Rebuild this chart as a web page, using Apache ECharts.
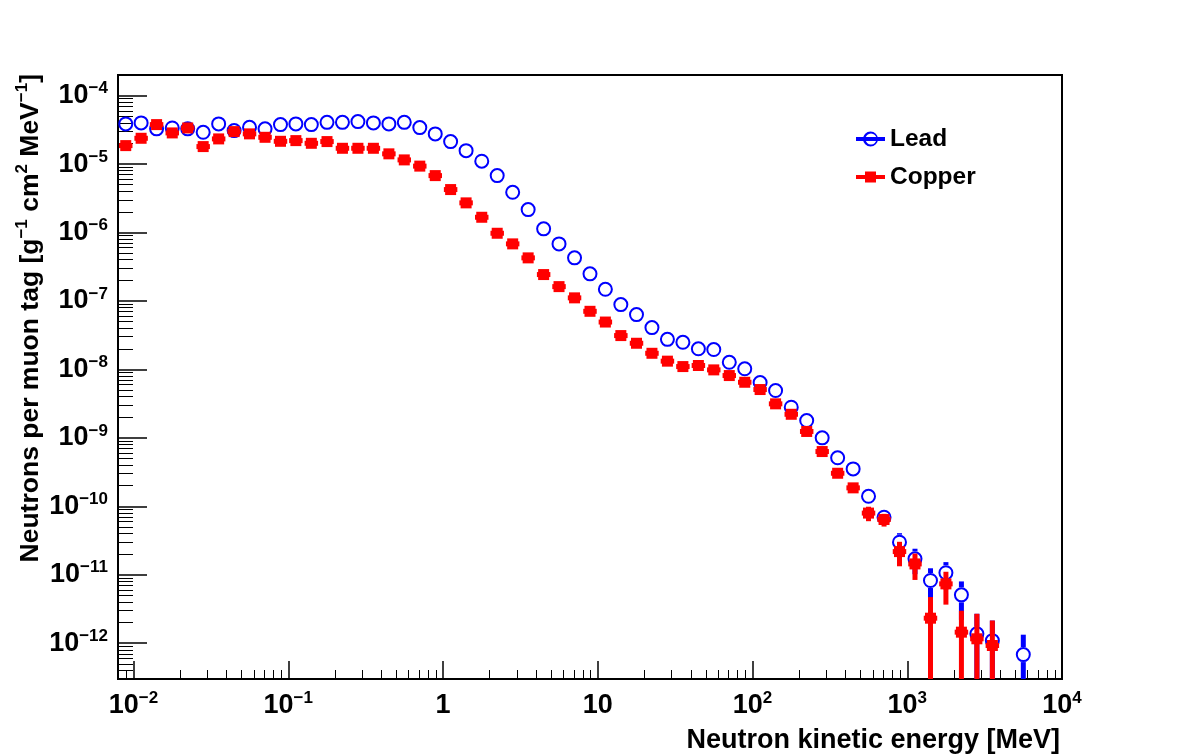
<!DOCTYPE html>
<html><head><meta charset="utf-8">
<script src="https://cdn.jsdelivr.net/npm/echarts@6/dist/echarts.min.js"></script>
<style>html,body{margin:0;padding:0;background:#fff}#c{width:1182px;height:755px}</style>
</head><body><div id="c"></div>
<script>
// ---- data ----
const energy = [0.00891, 0.0112, 0.0141, 0.0178, 0.0224, 0.0282, 0.0355, 0.0447, 0.0562, 0.0708,
  0.0891, 0.112, 0.141, 0.178, 0.224, 0.282, 0.355, 0.447, 0.562, 0.708,
  0.891, 1.12, 1.41, 1.78, 2.24, 2.82, 3.55, 4.47, 5.62, 7.08,
  8.91, 11.2, 14.1, 17.8, 22.4, 28.2, 35.5, 44.7, 56.2, 70.8,
  89.1, 112, 141, 178, 224, 282, 355, 447, 562, 708,
  891, 1122, 1413, 1778, 2239, 2818, 3548, 4467, 5623];
const binLogWidth = 0.1;

const leadFlux = [3.86e-5, 3.99e-5, 3.27e-5, 3.37e-5, 3.27e-5, 2.91e-5, 3.86e-5, 3.08e-5, 3.44e-5, 3.27e-5,
  3.77e-5, 3.86e-5, 3.77e-5, 4.07e-5, 4.07e-5, 4.17e-5, 3.99e-5, 3.86e-5, 4.07e-5, 3.41e-5,
  2.76e-5, 2.13e-5, 1.57e-5, 1.10e-5, 6.78e-6, 3.87e-6, 2.16e-6, 1.13e-6, 6.82e-7, 4.26e-7,
  2.49e-7, 1.48e-7, 8.85e-8, 6.32e-8, 4.08e-8, 2.75e-8, 2.49e-8, 2.00e-8, 1.95e-8, 1.27e-8,
  1.02e-8, 6.43e-9, 4.91e-9, 2.80e-9, 1.79e-9, 1.00e-9, 5.11e-10, 3.52e-10, 1.40e-10, 6.92e-11,
  2.99e-11, 1.71e-11, 8.24e-12, 1.07e-11, 5.09e-12, 1.37e-12, 1.09e-12, null, 6.82e-13];
// statistical errors (null = hidden inside the marker)
const leadErr = [null, null, null, null, null, null, null, null, null, null,
  null, null, null, null, null, null, null, null, null, null,
  null, null, null, null, null, null, null, null, null, null,
  null, null, null, null, null, null, null, null, null, null,
  null, null, null, null, null, null, null, null, null, null,
  1.06e-11, 6.9e-12, 4.2e-12, 4.6e-12, 2.9e-12, 1.32e-12, 1.05e-12, null, 6.5e-13];

const copperFlux = [1.86e-5, 2.38e-5, 3.77e-5, 2.85e-5, 3.37e-5, 1.80e-5, 2.33e-5, 2.98e-5, 2.76e-5, 2.46e-5,
  2.15e-5, 2.20e-5, 2.01e-5, 2.13e-5, 1.70e-5, 1.70e-5, 1.70e-5, 1.41e-5, 1.15e-5, 9.33e-6,
  6.78e-6, 4.24e-6, 2.71e-6, 1.67e-6, 9.75e-7, 6.82e-7, 4.26e-7, 2.43e-7, 1.62e-7, 1.11e-7,
  7.06e-8, 4.92e-8, 3.12e-8, 2.41e-8, 1.72e-8, 1.32e-8, 1.10e-8, 1.14e-8, 9.84e-9, 8.13e-9,
  6.49e-9, 5.08e-9, 3.14e-9, 2.21e-9, 1.24e-9, 6.31e-10, 3.04e-10, 1.86e-10, 7.96e-11, 6.41e-11,
  2.18e-11, 1.44e-11, 2.32e-12, 7.36e-12, 1.45e-12, 1.16e-12, 9.25e-13];
const copperErr = [null, null, null, null, null, null, null, null, null, null,
  null, null, null, null, null, null, null, null, null, null,
  null, null, null, null, null, null, null, null, null, null,
  null, null, null, null, null, null, null, null, null, null,
  null, null, null, null, null, null, null, null, 1.9e-11, 1.35e-11,
  8.5e-12, 6.0e-12, 2.4e-12, 3.7e-12, 1.53e-12, 1.53e-12, 1.22e-12];

const xRange = [0.00794, 1e4];
const yRange = [3e-13, 2e-4];
const xMajorTicks = [1e-2, 1e-1, 1, 10, 100, 1000, 10000];
const yMajorTicks = [1e-12, 1e-11, 1e-10, 1e-9, 1e-8, 1e-7, 1e-6, 1e-5, 1e-4];

// ---- styling ----
const FONT = "'Liberation Sans', Arial, Helvetica, sans-serif";
const BLUE = '#0000ff', RED = '#ff0000';

function minorTicks(range) {
  const out = [];
  const e0 = Math.floor(Math.log10(range[0])), e1 = Math.ceil(Math.log10(range[1]));
  for (let e = e0; e <= e1; e++) {
    for (let m = 2; m <= 9; m++) {
      const v = m * Math.pow(10, e);
      if (v >= range[0] * 0.9999 && v <= range[1]) out.push(v);
    }
  }
  return out;
}

function powLabel(v) {
  const l = Math.log10(v), e = Math.round(l);
  if (Math.abs(l - e) > 1e-6) return '';
  if (e === 0) return '{b|1}';
  if (e === 1) return '{b|10}';
  return '{b|10}{s|' + (e < 0 ? '\u2212' : '') + Math.abs(e) + '}';
}
const labelRich = {
  b: {fontSize: 27, fontWeight: 'bold', fontFamily: FONT, color: '#000', lineHeight: 31},
  s: {fontSize: 17, fontWeight: 'bold', fontFamily: FONT, color: '#000', lineHeight: 18, verticalAlign: 'top'}
};

function toData(flux, err) {
  const out = [];
  for (let i = 0; i < energy.length; i++) {
    if (flux[i] == null) continue;
    out.push([energy[i], flux[i], err[i] == null ? 0 : err[i]]);
  }
  return out;
}

function errEnds(api, params, x, y, e) {
  const cs = params.coordSys, bottom = cs.y + cs.height;
  const top = api.coord([x, y + e])[1];
  const low = (y - e > 0) ? Math.min(api.coord([x, y - e])[1], bottom) : bottom;
  return [top, low];
}

function renderLead(params, api) {
  const x = api.value(0), y = api.value(1), e = api.value(2);
  const p = api.coord([x, y]);
  const r = 6.5;
  const ch = [];
  if (e > 0) {
    const [top, low] = errEnds(api, params, x, y, e);
    if (top < p[1] - r - 1) ch.push({type: 'line', shape: {x1: p[0], y1: p[1] - r - 1, x2: p[0], y2: top}, style: {stroke: BLUE, lineWidth: 5}});
    if (low > p[1] + r + 1) ch.push({type: 'line', shape: {x1: p[0], y1: p[1] + r + 1, x2: p[0], y2: low}, style: {stroke: BLUE, lineWidth: 5}});
  }
  ch.push({type: 'circle', shape: {cx: p[0], cy: p[1], r: r}, style: {fill: 'none', stroke: BLUE, lineWidth: 2}});
  return {type: 'group', children: ch};
}

function renderCopper(params, api) {
  const x = api.value(0), y = api.value(1), e = api.value(2);
  const p = api.coord([x, y]);
  const xl = api.coord([x * Math.pow(10, -binLogWidth / 2), y])[0];
  const xr = api.coord([x * Math.pow(10, binLogWidth / 2), y])[0];
  const ch = [];
  ch.push({type: 'line', shape: {x1: xl + 1, y1: p[1], x2: xr - 1, y2: p[1]}, style: {stroke: RED, lineWidth: 5}});
  if (e > 0) {
    const [top, low] = errEnds(api, params, x, y, e);
    ch.push({type: 'line', shape: {x1: p[0], y1: top, x2: p[0], y2: low}, style: {stroke: RED, lineWidth: 5}});
  }
  const s = 11;
  ch.push({type: 'rect', shape: {x: p[0] - s / 2, y: p[1] - s / 2, width: s, height: s}, style: {fill: RED}});
  return {type: 'group', children: ch};
}

const leadIcon = 'path://M0 5.5H29V9.5H0Z M22 7.5A7.5 7.5 0 1 1 7 7.5A7.5 7.5 0 1 1 22 7.5Z M20.5 7.5A5.5 5.5 0 1 0 9.5 7.5A5.5 5.5 0 1 0 20.5 7.5Z';
const copperIcon = 'path://M0 5.5H29V9.5H0Z M9 2H20V13H9Z';

const axisCommon = {
  type: 'log', logBase: 10, splitLine: {show: false}, minorTick: {show: false}, minorSplitLine: {show: false}
};

const option = {
  animation: false,
  backgroundColor: '#fff',
  grid: {left: 118, right: 120, top: 75, bottom: 76, show: true, borderColor: '#000', borderWidth: 2, backgroundColor: 'transparent'},
  legend: {
    orient: 'vertical', left: 856, top: 126, padding: 0, itemWidth: 29, itemHeight: 15, itemGap: 12,
    selectedMode: false,
    textStyle: {fontSize: 24.5, fontWeight: 'bold', fontFamily: FONT, color: '#000', lineHeight: 26},
    itemStyle: {borderWidth: 0},
    data: [{name: 'Lead', icon: leadIcon}, {name: 'Copper', icon: copperIcon}]
  },
  xAxis: [
    Object.assign({}, axisCommon, {
      min: xRange[0], max: xRange[1], position: 'bottom',
      axisLine: {show: true, lineStyle: {color: '#000', width: 2}},
      axisTick: {show: true, inside: true, length: 18, lineStyle: {color: '#000', width: 1.5}, customValues: xMajorTicks},
      axisLabel: {show: true, customValues: xMajorTicks, formatter: powLabel, rich: labelRich, margin: 11, color: '#000'},
      name: 'Neutron kinetic energy [MeV]', nameLocation: 'end', nameGap: -2, nameMoveOverlap: false,
      nameTextStyle: {fontSize: 27, fontWeight: 'bold', fontFamily: FONT, color: '#000', align: 'right', verticalAlign: 'top', lineHeight: 28, padding: [48, 0, 0, 0]}
    }),
    Object.assign({}, axisCommon, {
      min: xRange[0], max: xRange[1], position: 'bottom',
      axisLine: {show: false},
      axisTick: {show: true, inside: true, length: 9, lineStyle: {color: '#000', width: 1}, customValues: minorTicks(xRange)},
      axisLabel: {show: false}
    })
  ],
  yAxis: [
    Object.assign({}, axisCommon, {
      min: yRange[0], max: yRange[1], position: 'left',
      axisLine: {show: true, lineStyle: {color: '#000', width: 2}},
      axisTick: {show: true, inside: true, length: 29, lineStyle: {color: '#000', width: 1.5}, customValues: yMajorTicks},
      axisLabel: {show: true, customValues: yMajorTicks, formatter: powLabel, rich: labelRich, margin: 10, color: '#000'},
      name: 'Neutrons per muon tag [g{s|\u22121} cm{s|2} MeV{s|\u22121}]',
      nameLocation: 'end', nameRotate: 90, nameGap: 1, nameMoveOverlap: false,
      nameTextStyle: {fontSize: 26.5, fontWeight: 'bold', fontFamily: FONT, color: '#000', align: 'right', verticalAlign: 'bottom', lineHeight: 34, padding: [0, 0, 70, 0],
        rich: {s: {fontSize: 17, fontWeight: 'bold', fontFamily: FONT, color: '#000', lineHeight: 17, verticalAlign: 'top'}}}
    }),
    Object.assign({}, axisCommon, {
      min: yRange[0], max: yRange[1], position: 'left',
      axisLine: {show: false},
      axisTick: {show: true, inside: true, length: 15, lineStyle: {color: '#000', width: 1}, customValues: minorTicks(yRange)},
      axisLabel: {show: false}
    })
  ],
  series: [
    {type: 'custom', name: 'Lead', xAxisIndex: 0, yAxisIndex: 0, renderItem: renderLead, clip: false,
     itemStyle: {color: BLUE}, data: toData(leadFlux, leadErr)},
    {type: 'custom', name: 'Copper', xAxisIndex: 0, yAxisIndex: 0, renderItem: renderCopper, clip: false,
     itemStyle: {color: RED}, data: toData(copperFlux, copperErr)}
  ]
};

const chart = echarts.init(document.getElementById('c'), null, {renderer: 'canvas'});
chart.setOption(option);
</script>
</body></html>
